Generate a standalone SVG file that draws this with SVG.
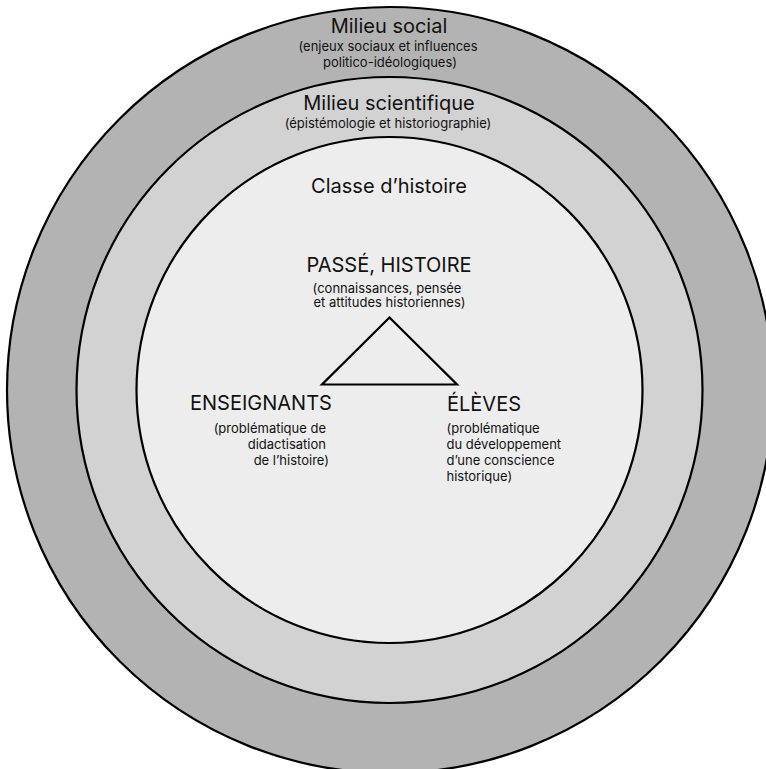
<svg xmlns="http://www.w3.org/2000/svg" width="766" height="769" viewBox="0 0 766 769">
<style>
.ring{stroke:#000;stroke-width:2.2}
text{font-family:Inter,"Liberation Sans",sans-serif;fill:#111}
.t{font-size:20px}
.s{font-size:13px}
.c{text-anchor:middle}
.r{text-anchor:end}
</style>
<rect width="766" height="769" fill="#fff"/>
<g id="milieu-social">
<circle class="ring" cx="390" cy="390" r="383" fill="#b3b3b3"/>
<text class="t c" x="389" y="33">Milieu social</text>
<text class="s c" x="388" y="50.5">(enjeux sociaux et influences</text>
<text class="s c" x="390" y="66.5">politico-idéologiques)</text>
</g>
<g id="milieu-scientifique">
<circle class="ring" cx="389.5" cy="390" r="313" fill="#d2d2d2"/>
<text class="t c" x="389" y="110">Milieu scientifique</text>
<text class="s c" x="388" y="127.5">(épistémologie et historiographie)</text>
</g>
<g id="classe">
<circle class="ring" cx="389.5" cy="390" r="253" fill="#ededed"/>
<text class="t c" x="389" y="193">Classe d’histoire</text>
</g>
<g id="connectors">
<polygon points="389.5,317.5 322,384.5 457,384.5" fill="none" stroke="#000" stroke-width="2.2"/>
</g>
<g id="passe">
<text class="t c" x="389" y="272">PASSÉ, HISTOIRE</text>
<text class="s c" x="387" y="292.5">(connaissances, pensée</text>
<text class="s c" x="389.5" y="307">et attitudes historiennes)</text>
</g>
<g id="enseignants">
<text class="t" x="190" y="410">ENSEIGNANTS</text>
<text class="s r" x="326" y="433">(problématique de</text>
<text class="s r" x="326" y="449">didactisation</text>
<text class="s r" x="329" y="465">de l’histoire)</text>
</g>
<g id="eleves">
<text class="t" x="447" y="410.5">ÉLÈVES</text>
<text class="s" x="446.5" y="433">(problématique</text>
<text class="s" x="446.5" y="449">du développement</text>
<text class="s" x="446.5" y="465">d’une conscience</text>
<text class="s" x="446.5" y="481">historique)</text>
</g>
</svg>
